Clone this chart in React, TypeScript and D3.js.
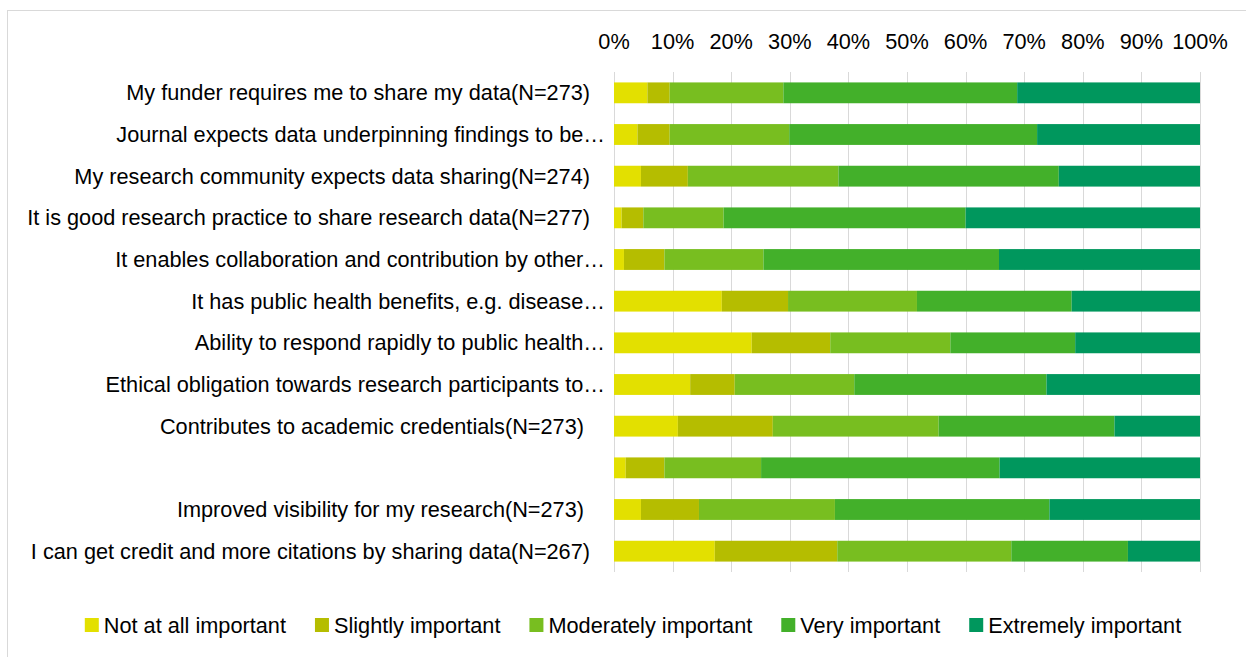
import React, { useEffect, useRef } from 'react';
import * as d3 from 'd3';

// Row labels, top to bottom (Excel truncated the long ones)
const categories = [
  'My funder requires me to share my data(N=273)',
  'Journal expects data underpinning findings to be…',
  'My research community expects data sharing(N=274)',
  'It is good research practice to share research data(N=277)',
  'It enables collaboration and contribution by other…',
  'It has public health benefits, e.g. disease…',
  'Ability to respond rapidly to public health…',
  'Ethical obligation towards research participants to…',
  'Contributes to academic credentials(N=273)\u00a0',
  '',
  'Improved visibility for my research(N=273)\u00a0',
  'I can get credit and more citations by sharing data(N=267)',
];

const seriesNames = [
  'Not at all important',
  'Slightly important',
  'Moderately important',
  'Very important',
  'Extremely important',
];

// percentages, one value per category
const notAtAll = [5.7, 4.0, 4.6, 1.3, 1.7, 18.4, 23.5, 13.0, 10.9, 2.0, 4.6, 17.2];
const slightly = [3.8, 5.5, 8.0, 3.7, 6.9, 11.3, 13.4, 7.6, 16.2, 6.6, 9.9, 20.9];
const moderately = [19.4, 20.4, 25.7, 13.7, 16.9, 22.0, 20.5, 20.4, 28.3, 16.5, 23.2, 29.7];
const very = [39.9, 42.3, 37.6, 41.3, 40.2, 26.4, 21.3, 32.8, 30.0, 40.7, 36.6, 19.9];
const extremely = [31.2, 27.8, 24.1, 40.0, 34.3, 21.9, 21.3, 26.2, 14.6, 34.2, 25.7, 12.3];

const colors = ['#E3E000', '#B5BD00', '#78BE20', '#43B02A', '#00975D'];
const ticks = [0, 0.1, 0.2, 0.3, 0.4, 0.5, 0.6, 0.7, 0.8, 0.9, 1];

const W = 1246;
const H = 657;
const FONT = '"Liberation Sans", Arial, sans-serif';

const App = () => {
  const svgRef = useRef<SVGSVGElement>(null);

  useEffect(() => {
    const svg = d3.select(svgRef.current);
    svg.selectAll('*').remove();

    // fit font size so the longest label spans the same width as in the original
    const probe = svg.append('text').attr('font-family', FONT).attr('font-size', 18)
      .text('It is good research practice to share research data(N=277)');
    const measured = (probe.node() as SVGTextElement).getComputedTextLength();
    probe.remove();
    const fs = 18 * 563 / measured;

    // chart frame
    svg.append('rect')
      .attr('x', 7.5).attr('y', 10.5)
      .attr('width', W + 20).attr('height', H + 20)
      .attr('fill', 'white').attr('stroke', '#D9D9D9');

    const x = d3.scaleLinear().domain([0, 1]).range([614, 1200]);
    const y = d3.scaleBand<number>()
      .domain(categories.map((_, i) => i))
      .range([72, 572])
      .paddingInner(0.5)
      .paddingOuter(0.25);

    const rows = categories.map((c, i) => ({
      idx: i,
      [seriesNames[0]]: notAtAll[i],
      [seriesNames[1]]: slightly[i],
      [seriesNames[2]]: moderately[i],
      [seriesNames[3]]: very[i],
      [seriesNames[4]]: extremely[i],
    }));

    const stacked = d3.stack<any>()
      .keys(seriesNames)
      .offset(d3.stackOffsetExpand)(rows);

    // gridlines
    svg.append('g')
      .selectAll('line')
      .data(ticks)
      .join('line')
      .attr('x1', d => Math.round(x(d)) + 0.5)
      .attr('x2', d => Math.round(x(d)) + 0.5)
      .attr('y1', 72).attr('y2', 572)
      .attr('stroke', '#D9D9D9').attr('stroke-width', 1);

    // top axis labels
    svg.append('g')
      .selectAll('text')
      .data(ticks)
      .join('text')
      .attr('x', d => x(d))
      .attr('y', 41)
      .attr('dy', '0.35em')
      .attr('text-anchor', 'middle')
      .attr('font-family', FONT)
      .attr('font-size', fs)
      .attr('fill', '#000')
      .text(d => d3.format('.0%')(d));

    // bars
    svg.append('g')
      .selectAll('g')
      .data(stacked)
      .join('g')
      .attr('fill', (_, i) => colors[i])
      .selectAll('rect')
      .data(d => d)
      .join('rect')
      .attr('x', d => x(d[0]))
      .attr('width', d => x(d[1]) - x(d[0]))
      .attr('y', d => y(d.data.idx)!)
      .attr('height', y.bandwidth());

    // category labels
    svg.append('g')
      .selectAll('text')
      .data(categories)
      .join('text')
      .attr('x', d => (d.endsWith('…') ? 605 : 590))
      .attr('y', (_, i) => y(i)! + y.bandwidth() / 2)
      .attr('dy', '0.35em')
      .attr('text-anchor', 'end')
      .attr('font-family', FONT)
      .attr('font-size', fs)
      .attr('fill', '#000')
      .style('white-space', 'pre')
      .text(d => d);

    // legend
    const gap = 29;
    const legend = svg.append('g');
    const items = legend.selectAll('g')
      .data(seriesNames)
      .join('g');
    items.append('rect')
      .attr('width', 14).attr('height', 14)
      .attr('y', 618)
      .attr('fill', (_, i) => colors[i]);
    items.append('text')
      .attr('x', 19)
      .attr('y', 625)
      .attr('dy', '0.35em')
      .attr('font-family', FONT)
      .attr('font-size', fs)
      .attr('fill', '#000')
      .text(d => d);
    let cx = 0;
    const offsets: number[] = [];
    items.each(function () {
      const t = d3.select(this).select('text').node() as SVGTextElement;
      offsets.push(cx);
      cx += 19 + t.getComputedTextLength() + gap;
    });
    const total = cx - gap;
    const start = 633 - total / 2;
    items.attr('transform', (_, i) => `translate(${start + offsets[i]},0)`);
  }, []);

  return (
    <svg
      ref={svgRef}
      width={W}
      height={H}
      style={{ position: 'absolute', left: 0, top: 0, background: 'white' }}
    />
  );
};

export default App;
